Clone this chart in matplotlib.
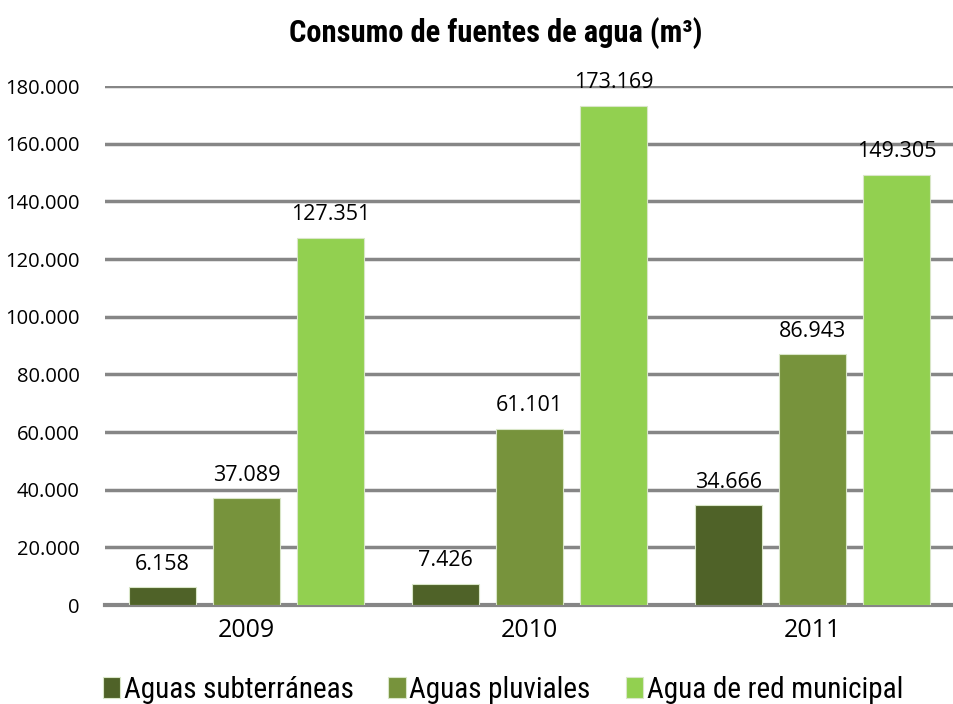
import matplotlib.pyplot as plt
import numpy as np
from matplotlib.font_manager import FontProperties

years = ['2009', '2010', '2011']
series = ['Aguas subterráneas', 'Aguas pluviales', 'Agua de red municipal']
subterraneas = [6158, 7426, 34666]
pluviales = [37089, 61101, 86943]
red_municipal = [127351, 173169, 149305]
colors = ['#4F6228', '#77933C', '#92D050']

# numbers in a regular sans, title and legend in a narrow one
plt.rcParams['font.family'] = ['Open Sans', 'DejaVu Sans']
narrow = ['Roboto Condensed', 'DejaVu Sans']


def miles(v):
    return f'{v:,}'.replace(',', '.')


fig = plt.figure(figsize=(9.54, 7.04), dpi=100)
ax = fig.add_axes([0.110, 0.1406, 0.890, 0.7372])

x = np.arange(len(years))
w = 0.237
step = 0.297
for i, (vals, name) in enumerate(zip([subterraneas, pluviales, red_municipal], series)):
    bars = ax.bar(x + (i - 1) * step, vals, w, color=colors[i], edgecolor='#d9e6c8',
                  linewidth=0.8, label=name, zorder=3)
    for b, v in zip(bars, vals):
        ax.annotate(miles(v), (b.get_x() + b.get_width() / 2, v),
                    xytext=(0, 9), textcoords='offset points', ha='center', va='bottom',
                    fontsize=15.5)

ax.set_xlim(-0.5, 2.5)
ax.set_ylim(0, 180000)
ticks = list(range(0, 180001, 20000))
ax.set_yticks(ticks)
ax.set_yticklabels([miles(v) for v in ticks], fontsize=14.5)
ax.set_xticks(x)
ax.set_xticklabels(years, fontsize=18)
ax.tick_params(length=0)
ax.tick_params(axis='x', pad=9)
ax.tick_params(axis='y', pad=18)
ax.grid(axis='y', color='#868686', linewidth=2.5, zorder=0)
ax.axhline(0, color='#868686', linewidth=3, zorder=2, clip_on=False)
for s in ax.spines.values():
    s.set_visible(False)

fig.text(0.520, 0.953, 'Consumo de fuentes de agua (m³)', ha='center', va='center',
         fontsize=22, fontweight='bold', family=narrow, fontstretch='condensed')
fig.legend(loc='center', bbox_to_anchor=(0.527, 0.02), ncol=3, frameon=False,
           prop=FontProperties(family=narrow, stretch='condensed', size=21),
           handlelength=0.6, handleheight=0.75, handletextpad=0.12, columnspacing=1.2)

fig.savefig('out.png', dpi=100)
